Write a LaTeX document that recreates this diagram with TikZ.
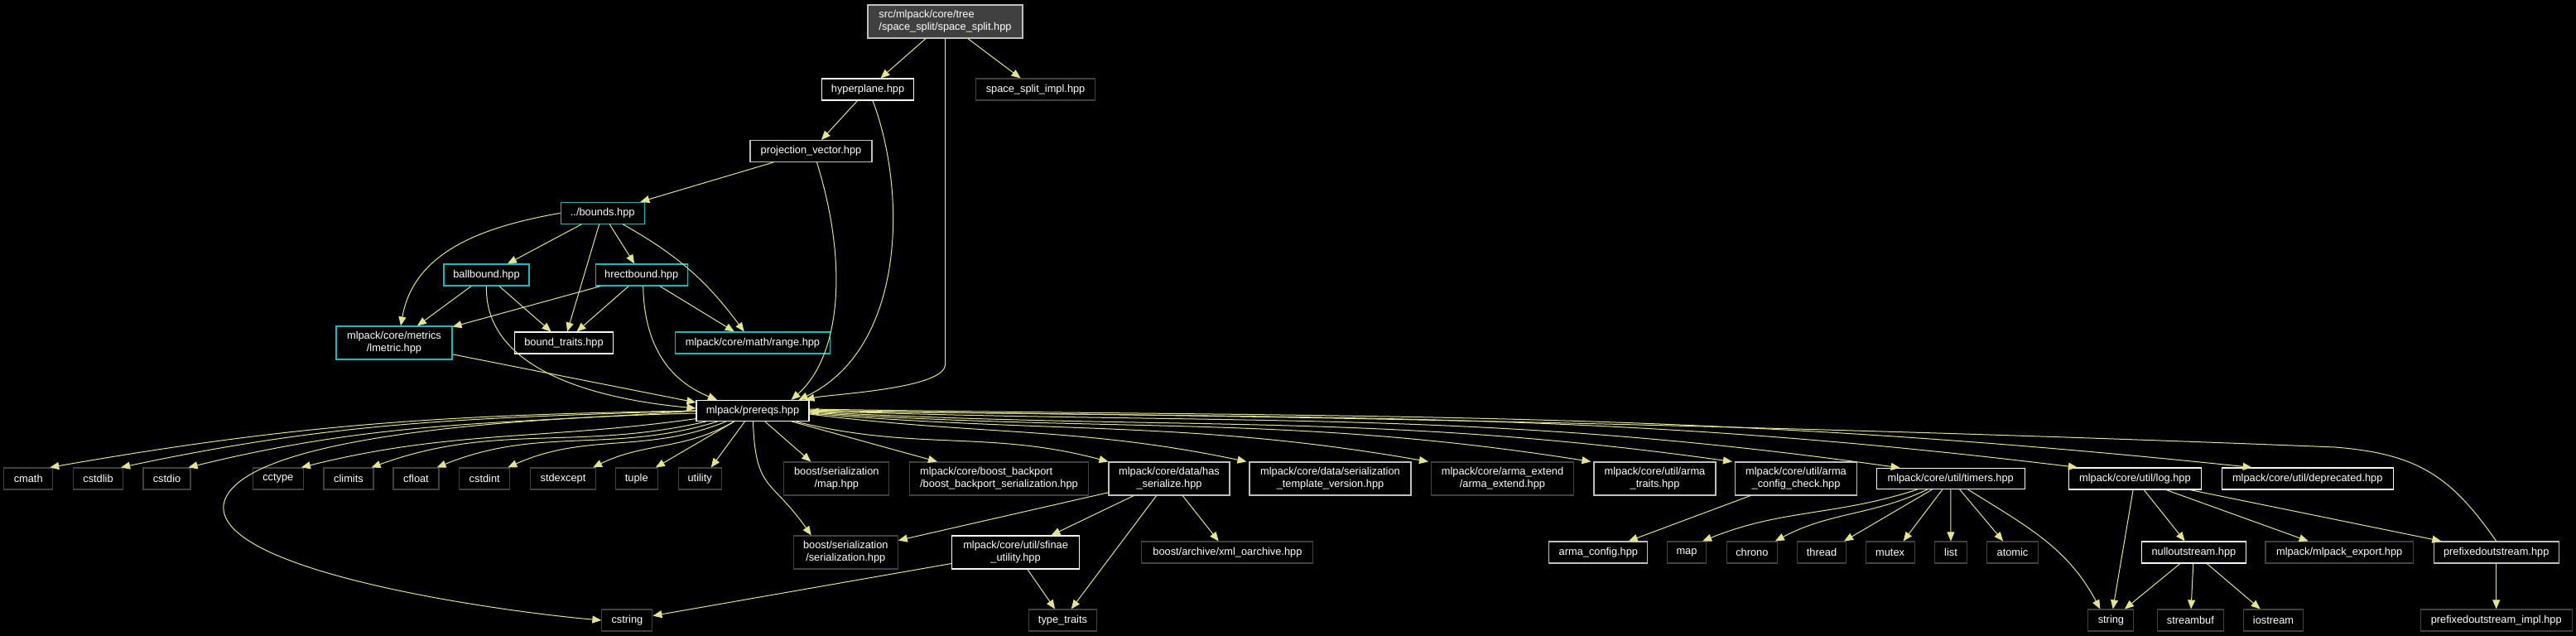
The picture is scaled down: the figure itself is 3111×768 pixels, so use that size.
\documentclass[tikz,border=0pt]{standalone}
\usepackage{fontspec}
\newfontfamily\lsans{Liberation Sans}
\usetikzlibrary{arrows.meta}
\newcommand\nodefont{\lsans\fontsize{12.8}{15}\selectfont}
\definecolor{ec}{RGB}{228,228,140}
\definecolor{bw}{RGB}{245,245,245}
\definecolor{bl}{RGB}{191,191,191}
\definecolor{bd}{RGB}{64,64,64}
\definecolor{bc}{RGB}{0,196,196}
\definecolor{rootfill}{RGB}{64,64,64}
\tikzset{
  nb/.style={draw, fill=black, text=white, inner sep=0pt, align=center, font=\nodefont, line width=1.1pt},
  wb/.style={nb, draw=bw},
  gb/.style={nb, draw=bl},
  db/.style={nb, draw=bd},
  cb/.style={nb, draw=bc},
  sz/.style 2 args={minimum width=#1, minimum height=#2},
  ed/.style={draw=ec, line width=1pt, -{Triangle[length=11pt,width=9pt]}},
}
\begin{document}
\begin{tikzpicture}[x=1pt,y=1pt]
\fill[black] (0,0) rectangle (3111,-768);
\useasboundingbox (0,0) rectangle (3111,-768);
% nodes
\node[gb, fill=rootfill, align=left, sz={187}{40}] (root) at (1141.5,-26) {src/mlpack/core/tree\\/space\_split/space\_split.hpp};
\node[wb, sz={111}{26}] (hyp) at (1048,-108) {hyperplane.hpp};
\node[db, sz={144}{26}] (ssi) at (1250.6,-108) {space\_split\_impl.hpp};
\node[gb, sz={147}{26}] (proj) at (979.5,-182.5) {projection\_vector.hpp};
\node[cb, sz={101}{26}] (bnds) at (727.7,-257.3) {../bounds.hpp};
\node[cb, sz={103}{26}] (ball) at (587.5,-332) {ballbound.hpp};
\node[cb, sz={111}{26}] (hrect) at (774.7,-332) {hrectbound.hpp};
\node[cb, sz={140}{40}] (lmet) at (476,-414) {mlpack/core/metrics\\/lmetric.hpp};
\node[wb, sz={119}{26}] (btr) at (681,-414) {bound\_traits.hpp};
\node[cb, sz={187}{26}] (rng) at (909,-414) {mlpack/core/math/range.hpp};
\node[wb, sz={136}{25}] (pre) at (909,-496) {mlpack/prereqs.hpp};
% row 578
\node[db, sz={59}{26}] (cmath) at (34.2,-578) {cmath};
\node[db, sz={60}{26}] (cstdlib) at (118.5,-578) {cstdlib};
\node[db, sz={57}{26}] (cstdio) at (201.5,-578) {cstdio};
\node[db, sz={61}{26}] (cctype) at (335.8,-578) {cctype};
\node[db, sz={60}{26}] (climits) at (421,-578) {climits};
\node[db, sz={55}{26}] (cfloat) at (502.5,-578) {cfloat};
\node[db, sz={61}{26}] (cstdint) at (585.2,-578) {cstdint};
\node[db, sz={79}{26}] (stdexc) at (680,-578) {stdexcept};
\node[db, sz={51}{26}] (tuple) at (768.8,-578) {tuple};
\node[db, sz={52}{26}] (utility) at (845.2,-578) {utility};
\node[db, sz={127}{40}] (smap) at (1010.3,-578) {boost/serialization\\/map.hpp};
\node[db, align=left, sz={216}{40}] (backport) at (1206.5,-578) {mlpack/core/boost\_backport\\/boost\_backport\_serialization.hpp};
\node[gb, sz={146}{40}] (hasser) at (1412,-578) {mlpack/core/data/has\\\_serialize.hpp};
\node[gb, sz={195}{40}] (tmplv) at (1606.5,-578) {mlpack/core/data/serialization\\\_template\_version.hpp};
\node[db, sz={172}{40}] (armaext) at (1814.5,-578) {mlpack/core/arma\_extend\\/arma\_extend.hpp};
\node[gb, sz={147}{40}] (armatr) at (1998.5,-578) {mlpack/core/util/arma\\\_traits.hpp};
\node[gb, sz={147}{40}] (armacc) at (2169,-578) {mlpack/core/util/arma\\\_config\_check.hpp};
\node[wb, sz={179}{25}] (timers) at (2355.7,-578) {mlpack/core/util/timers.hpp};
\node[wb, sz={160}{26}] (log) at (2578.4,-578) {mlpack/core/util/log.hpp};
\node[wb, sz={207}{26}] (depr) at (2786.7,-578) {mlpack/core/util/deprecated.hpp};
% row 667
\node[db, sz={126}{40}] (ser) at (1021.3,-667) {boost/serialization\\/serialization.hpp};
\node[wb, sz={154}{40}] (sfinae) at (1226.6,-667) {mlpack/core/util/sfinae\\\_utility.hpp};
\node[db, sz={207}{26}] (xmlo) at (1482.4,-667) {boost/archive/xml\_oarchive.hpp};
\node[gb, sz={119}{26}] (armacfg) at (1930.4,-667) {arma\_config.hpp};
\node[db, sz={47}{26}] (map) at (2037,-667) {map};
\node[db, sz={61}{26}] (chrono) at (2115.8,-667) {chrono};
\node[db, sz={59}{26}] (thread) at (2200,-667) {thread};
\node[db, sz={59}{26}] (mutex) at (2282.6,-667) {mutex};
\node[db, sz={39}{26}] (list) at (2356,-667) {list};
\node[db, sz={62}{26}] (atomic) at (2430.5,-667) {atomic};
\node[wb, sz={126}{26}] (nullo) at (2649.4,-667) {nulloutstream.hpp};
\node[db, sz={178.5}{26}] (mlexp) at (2825.2,-667) {mlpack/mlpack\_export.hpp};
\node[gb, sz={151}{26}] (prefo) at (3014.7,-667) {prefixedoutstream.hpp};
% row 749
\node[db, sz={61}{26}] (cstring) at (757.4,-749) {cstring};
\node[db, sz={82}{26}] (ttraits) at (1283.5,-749) {type\_traits};
\node[db, sz={55}{26}] (string) at (2549.4,-749) {string};
\node[db, sz={80}{26}] (streambuf) at (2645.4,-749) {streambuf};
\node[db, sz={72}{26}] (iostream) at (2745.5,-749) {iostream};
\node[db, sz={183}{26}] (prefimpl) at (3014.7,-749) {prefixedoutstream\_impl.hpp};
% edges top
\draw[ed] (root) -- (hyp);
\draw[ed] (root) -- (ssi);
\draw[ed] (root.south) -- (1141.5,-440) .. controls (1141.5,-470) and (1000,-476) .. ([xshift=-5]pre.north east);
\draw[ed] (hyp) -- (proj);
\draw[ed] ([xshift=6]hyp.south) .. controls (1095,-230) and (1095,-420) .. ([xshift=-13]pre.north east);
\draw[ed] (proj) -- (bnds);
\draw[ed] ([xshift=7]proj.south) .. controls (1025,-320) and (1015,-430) .. ([xshift=-22]pre.north east);
\draw[ed] (bnds) -- (ball);
\draw[ed] (bnds) -- (hrect);
\draw[ed] (bnds) -- (btr);
\draw[ed] (bnds) to[bend left=12] (rng);
\draw[ed] (bnds.west) to[out=190,in=80] ([xshift=8]lmet.north);
\draw[ed] (ball) -- (lmet);
\draw[ed] (ball) -- (btr);
\draw[ed] (ball.south) .. controls (585,-430) and (680,-478) .. ([yshift=3]pre.west);
\draw[ed] (hrect) -- (lmet);
\draw[ed] (hrect) -- (btr);
\draw[ed] (hrect) -- (rng);
\draw[ed] ([xshift=2]hrect.south) .. controls (778,-420) and (810,-460) .. ([xshift=-43]pre.north);
\draw[ed] (lmet) -- ([yshift=10]pre.west);
% prereqs to left row
\draw[ed] (pre.west) .. controls (535,-501) and (360,-512) .. ([xshift=-4]cmath.north east);
\draw[ed] (pre.west) .. controls (569,-505) and (412,-508) .. ([xshift=-3]cstdlib.north east);
\draw[ed] (pre.west) .. controls (602,-513) and (462,-507) .. ([xshift=-3]cstdio.north east);
\draw[ed] (pre) to[out=188,in=14] ([xshift=-3]cctype.north east);
\draw[ed] (pre) to[out=193,in=20] ([xshift=-3]climits.north east);
\draw[ed] (pre) to[out=197,in=22] ([xshift=-3]cfloat.north east);
\draw[ed] (pre) to[out=202,in=24] ([xshift=-3]cstdint.north east);
\draw[ed] (pre) to[out=210,in=26] ([xshift=-4]stdexc.north east);
\draw[ed] (pre) -- ([xshift=-3]tuple.north east);
\draw[ed] (pre) -- ([xshift=-13]utility.north east);
\draw[ed] ([yshift=-3]pre.west) .. controls (600,-505) and (282,-530) .. (270,-610) .. controls (262,-690) and (600,-738) .. (cstring.west);
\draw[ed] (pre) to[out=-88,in=125,looseness=1.4] ([xshift=22]ser.north west);
% prereqs to right row
\draw[ed] (pre) -- ([xshift=33]smap.north west);
\draw[ed] (pre) -- ([xshift=34]backport.north west);
\draw[ed] (pre) to[out=-14,in=165] (hasser.north west);
\draw[ed] ([yshift=-4]pre.east) .. controls (1183,-526) and (1303,-515) .. ([xshift=-3]tmplv.north west);
\draw[ed] ([yshift=-3]pre.east) .. controls (1269,-524) and (1437,-507) .. ([xshift=-3]armaext.north west);
\draw[ed] ([yshift=-2]pre.east) .. controls (1346,-523) and (1557,-500) .. ([xshift=-3]armatr.north west);
\draw[ed] ([yshift=-1]pre.east) .. controls (1412,-521) and (1660,-497) .. ([xshift=-3]armacc.north west);
\draw[ed] (pre.east) .. controls (1492,-514) and (1785,-493) .. ([xshift=29]timers.north west);
\draw[ed] ([yshift=1]pre.east) .. controls (1577,-508) and (1913,-492) .. ([xshift=11]log.north west);
\draw[ed] ([yshift=2]pre.east) .. controls (1657,-505) and (2044,-494) .. ([xshift=37]depr.north west);
% has_serialize etc
\draw[ed] (hasser) -- (ser);
\draw[ed] (hasser) -- (sfinae);
\draw[ed] (hasser) -- (ttraits);
\draw[ed] (hasser) -- (xmlo);
\draw[ed] (sfinae) -- (ttraits);
\draw[ed] (sfinae) -- (cstring);
\draw[ed] (armacc) -- (armacfg);
% timers
\draw[ed] (timers) to[out=198,in=22] ([xshift=-5]map.north east);
\draw[ed] (timers) to[out=205,in=28] ([xshift=-3]chrono.north east);
\draw[ed] (timers) -- ([xshift=-3]thread.north east);
\draw[ed] (timers) -- ([xshift=16]mutex.north);
\draw[ed] (timers) -- (list);
\draw[ed] (timers) -- (atomic);
\draw[ed] (timers) to[out=-32,in=118] ([xshift=15]string.north west);
% log
\draw[ed] (log) -- (string);
\draw[ed] (log) -- (nullo);
\draw[ed] (log) -- (mlexp);
\draw[ed] (log) -- (prefo);
\draw[ed] (nullo) -- (string);
\draw[ed] (nullo) -- (streambuf);
\draw[ed] (nullo) -- (iostream);
\draw[ed] (prefo) -- (prefimpl);
\draw[ed] (prefo.north) .. controls (2960,-575) and (2920,-548) .. (2820,-540) .. controls (2200,-515) and (1500,-500) .. ([yshift=-1]pre.east);
\end{tikzpicture}
\end{document}
